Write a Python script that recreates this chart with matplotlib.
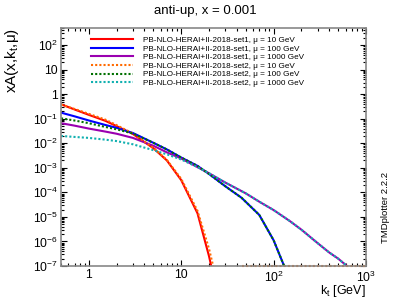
import numpy as np
import matplotlib
matplotlib.use("Agg")
import matplotlib.pyplot as plt
from matplotlib.ticker import LogLocator, FuncFormatter, NullFormatter

plt.rcParams['font.family'] = ['Liberation Sans', 'DejaVu Sans']
plt.rcParams['mathtext.fontset'] = 'custom'
plt.rcParams['mathtext.rm'] = 'Liberation Sans'
plt.rcParams['mathtext.it'] = 'Liberation Sans:italic'

title = "anti-up, x = 0.001"
labels = [
    "PB-NLO-HERAI+II-2018-set1, μ = 10 GeV",
    "PB-NLO-HERAI+II-2018-set1, μ = 100 GeV",
    "PB-NLO-HERAI+II-2018-set1, μ = 1000 GeV",
    "PB-NLO-HERAI+II-2018-set2, μ = 10 GeV",
    "PB-NLO-HERAI+II-2018-set2, μ = 100 GeV",
    "PB-NLO-HERAI+II-2018-set2, μ = 1000 GeV",
]

# kt grids and log10 of xA values
kt_mu10 = [0.5, 0.7, 1, 1.5, 2, 3, 4, 5, 7, 10, 15, 20, 22]
set1_mu10 = [-0.41, -0.62, -0.84, -1.08, -1.30, -1.62, -1.95, -2.20, -2.70, -3.50, -4.85, -6.60, -7.30]
kt_mu10_s2 = [0.5, 0.7, 1, 1.5, 2, 3, 4, 5, 7, 10, 15, 20, 22, 23]
set2_mu10 = [-0.42, -0.60, -0.80, -1.03, -1.26, -1.60, -1.93, -2.18, -2.68, -3.45, -4.75, -6.30, -6.95, -7.30]
kt_mu10_s2_tail = [45, 70, 100, 200, 500, 1000]
set2_mu10_tail = [-7.0, -7.0, -7.0, -7.0, -7.0, -7.0]

kt_mu100 = [0.5, 0.7, 1, 1.5, 2, 3, 5, 7, 10, 15, 20, 30, 45, 70, 100, 130, 140]
set1_mu100 = [-0.75, -0.90, -1.07, -1.25, -1.37, -1.58, -1.98, -2.25, -2.58, -2.92, -3.25, -3.75, -4.22, -4.92, -5.95, -7.00, -7.40]
set2_mu100 = [-0.98, -1.07, -1.18, -1.33, -1.43, -1.60, -1.98, -2.25, -2.58, -2.92, -3.25, -3.75, -4.22, -4.92, -5.95, -7.00, -7.40]

kt_mu1000 = [0.5, 0.7, 1, 1.5, 2, 3, 5, 7, 10, 15, 20, 30, 50, 70, 100, 150, 200, 300, 400, 500, 600, 650]
set1_mu1000 = [-1.18, -1.28, -1.40, -1.52, -1.61, -1.78, -2.10, -2.37, -2.62, -2.97, -3.22, -3.60, -4.04, -4.38, -4.72, -5.17, -5.52, -6.07, -6.45, -6.70, -6.95, -7.10]
set2_mu1000 = [-1.70, -1.74, -1.78, -1.85, -1.91, -2.04, -2.28, -2.45, -2.66, -2.97, -3.22, -3.60, -4.04, -4.38, -4.72, -5.17, -5.52, -6.07, -6.45, -6.70, -6.95, -7.10]

colors = ['#ff0000', '#0000ff', '#9a00b0', '#ff6a00', '#007000', '#10b0b0']

fig = plt.figure(figsize=(4.08, 2.99), dpi=100)
ax = fig.add_axes([61/408, 1-266/299, 305/408, 238/299])

lw = 1.5
dot = (0, (1, 1))
ax.plot(kt_mu10, 10**np.array(set1_mu10), color=colors[0], lw=lw, label=labels[0])
ax.plot(kt_mu100, 10**np.array(set1_mu100), color=colors[1], lw=lw, label=labels[1])
ax.plot(kt_mu1000, 10**np.array(set1_mu1000), color=colors[2], lw=lw, label=labels[2])
ax.plot(kt_mu10_s2, 10**np.array(set2_mu10), color=colors[3], lw=lw, ls=dot, label=labels[3])
ax.plot(kt_mu10_s2_tail, 10**np.array(set2_mu10_tail), color=colors[3], lw=lw, ls=dot, clip_on=False)
ax.plot(kt_mu100, 10**np.array(set2_mu100), color=colors[4], lw=lw, ls=dot, label=labels[4])
ax.plot(kt_mu1000, 10**np.array(set2_mu1000), color=colors[5], lw=lw, ls=dot, label=labels[5])

ax.set_xscale('log')
ax.set_yscale('log')
ax.set_xlim(0.5, 1000)
ax.set_ylim(1e-7, 500)

def fmt(v, pos):
    e = int(round(np.log10(v)))
    if e == 0:
        return '1'
    if e == 1:
        return '10'
    return r'$\mathregular{10^{%d}}$' % e

for axis in (ax.xaxis, ax.yaxis):
    axis.set_major_locator(LogLocator(base=10, numticks=30))
    axis.set_minor_locator(LogLocator(base=10, subs=np.arange(2, 10), numticks=30))
    axis.set_major_formatter(FuncFormatter(fmt))
    axis.set_minor_formatter(NullFormatter())

ax.tick_params(which='both', direction='in', top=True, right=True, labelsize=8.7, color='black')
ax.tick_params(which='major', length=4.5, width=0.8)
ax.tick_params(which='minor', length=2.2, width=0.8)
ax.tick_params(axis='x', pad=2.5)
ax.tick_params(axis='y', pad=2)
for s in ax.spines.values():
    s.set_color('#888888')
    s.set_linewidth(1.2)

ax.set_xlabel(r'k$_\mathregular{t}$ [GeV]', fontsize=9, loc='right')
ax.xaxis.set_label_coords(1.0, -0.073)
ax.set_ylabel(r'xA(x,k$_\mathregular{t}$,μ)', fontsize=11, loc='top')
ax.yaxis.set_label_coords(-0.13, 1.0)

fig.text(205/408, 1-11/299, title, ha='center', va='center', fontsize=9.5)
fig.text(385/408, 1-207/299, 'TMDplotter 2.2.2', rotation=90, ha='center', va='center', fontsize=6.8)

leg = ax.legend(loc='upper left', bbox_to_anchor=(0.097, 1-(36.5-28)/238), fontsize=5.9,
                frameon=False, borderpad=0, borderaxespad=0, handlelength=5.2,
                handletextpad=1.15, labelspacing=0.1)

fig.savefig('out.png', dpi=100)
